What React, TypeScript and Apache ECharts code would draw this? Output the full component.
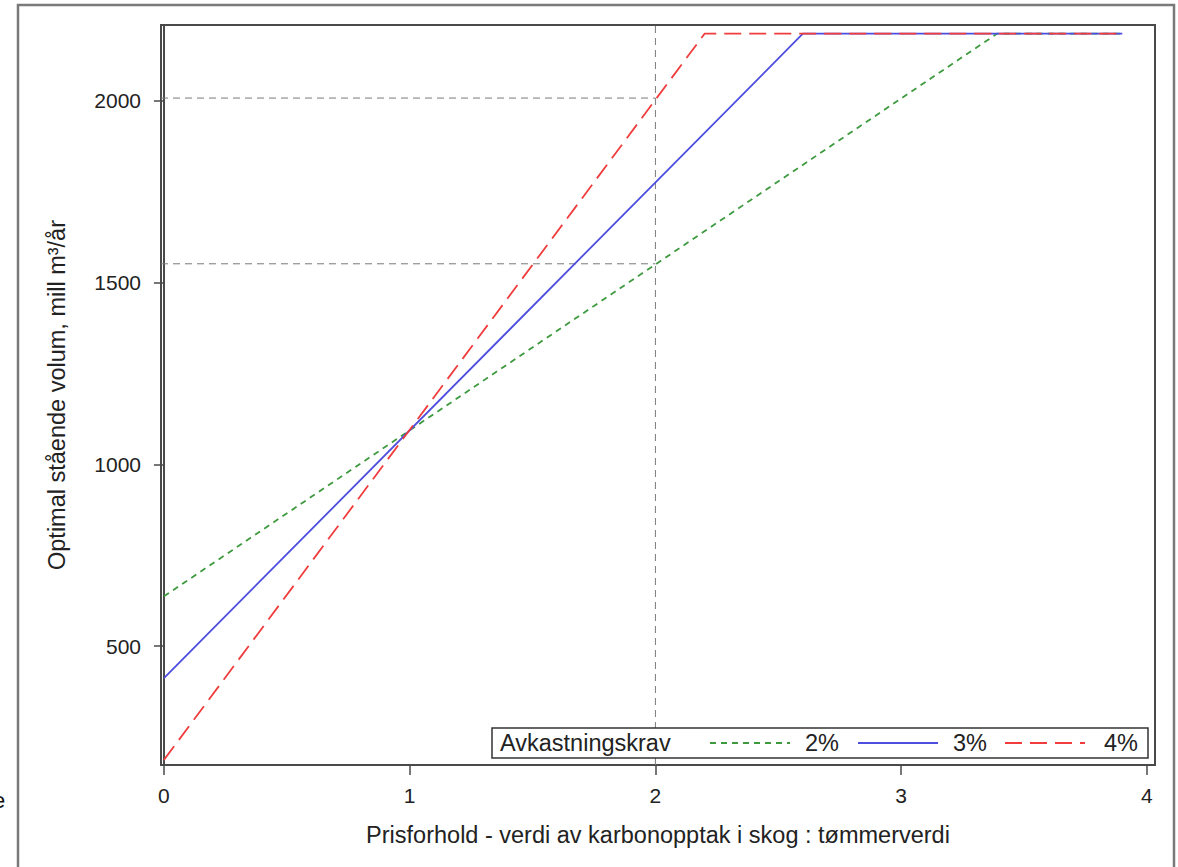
import React, { useEffect, useRef } from "react";
import * as echarts from "echarts";

// Price ratio (carbon uptake value : timber value) vs optimal standing volume
const seriesNames = ["2%", "3%", "4%"];
const rate2: number[][] = [[0, 637], [3.39, 2185], [3.9, 2185]];
const rate3: number[][] = [[0, 412], [2.6, 2185], [3.9, 2185]];
const rate4: number[][] = [[0, 187], [2.2, 2185], [3.9, 2185]];

// Reference guides at price ratio 2
const guideX = 2;
const guideLevels = [2008, 1552];

const xTicks = [0, 1, 2, 3, 4];
const yTicks = [500, 1000, 1500, 2000];
const xRange = [-0.012, 4.033];
const yRange = [173, 2209];

const FONT = "'Liberation Sans', Arial, sans-serif";
const colors = ["#3f9a3f", "#4d4de0", "#f03c3c"];
const dashes: any[] = [[6, 5], "solid", [17, 8]];

export default function App() {
  const ref = useRef<HTMLDivElement>(null);

  useEffect(() => {
    if (!ref.current) return;
    const chart = echarts.init(ref.current, null, { renderer: "svg" });

    const guideStyle = { color: "#7a7a7a", width: 1, type: [7, 5] as number[] };
    const guideSeries: any[] = [
      ...guideLevels.map((lv) => ({
        type: "line",
        data: [[xRange[0], lv], [guideX, lv]],
        symbol: "none",
        silent: true,
        lineStyle: guideStyle,
        z: 1,
      })),
      {
        type: "line",
        data: [[guideX, yRange[0]], [guideX, yRange[1]]],
        symbol: "none",
        silent: true,
        lineStyle: guideStyle,
        z: 1,
      },
    ];

    const mainData = [rate2, rate3, rate4];
    const mainSeries = mainData.map((d, i) => ({
      name: seriesNames[i],
      type: "line",
      data: d,
      symbol: "none",
      color: colors[i],
      lineStyle: { color: colors[i], width: 1.8, type: dashes[i] },
      z: 3,
    }));

    // Legend: keys and labels inside a framed box
    const legendY = 743;
    const keyX = [710, 858, 1005];
    const labelX = [805, 953, 1104];
    const legendItems: any[] = [];
    seriesNames.forEach((n, i) => {
      legendItems.push({
        type: "line",
        shape: { x1: keyX[i], y1: legendY, x2: keyX[i] + 80, y2: legendY },
        style: {
          stroke: colors[i],
          lineWidth: 1.8,
          lineDash: dashes[i] === "solid" ? null : dashes[i],
        },
        silent: true,
        z: 11,
      });
      legendItems.push({
        type: "text",
        x: labelX[i],
        y: legendY,
        style: {
          text: n,
          fontFamily: FONT,
          fontSize: 23.5,
          fill: "#222",
          verticalAlign: "middle",
        },
        silent: true,
        z: 11,
      });
    });

    const noSep = (v: number) => String(v);

    chart.setOption({
      animation: false,
      backgroundColor: "#ffffff",
      grid: {
        left: 161,
        top: 25,
        width: 994,
        height: 740,
        show: true,
        borderColor: "#4a4a4a",
        borderWidth: 2,
        backgroundColor: "#ffffff",
      },
      xAxis: {
        type: "value",
        min: xRange[0],
        max: xRange[1],
        name: "Prisforhold - verdi av karbonopptak i skog : tømmerverdi",
        nameLocation: "middle",
        nameGap: 58,
        nameTextStyle: { fontFamily: FONT, fontSize: 23.5, color: "#222" },
        axisLine: { show: true, lineStyle: { color: "#4a4a4a", width: 2 } },
        axisTick: {
          show: true,
          length: 10,
          customValues: xTicks,
          lineStyle: { color: "#4a4a4a", width: 1.5 },
        },
        axisLabel: {
          customValues: xTicks,
          formatter: noSep,
          margin: 20,
          fontFamily: FONT,
          fontSize: 21,
          color: "#222",
        },
        splitLine: { show: false },
      },
      yAxis: {
        type: "value",
        min: yRange[0],
        max: yRange[1],
        name: "Optimal stående volum, mill m³/år",
        nameLocation: "middle",
        nameGap: 92,
        nameRotate: 90,
        nameTextStyle: { fontFamily: FONT, fontSize: 23.5, color: "#222" },
        axisLine: { show: true, lineStyle: { color: "#4a4a4a", width: 2 } },
        axisTick: {
          show: true,
          length: 10,
          customValues: yTicks,
          lineStyle: { color: "#4a4a4a", width: 1.5 },
        },
        axisLabel: {
          customValues: yTicks,
          formatter: noSep,
          margin: 20,
          fontFamily: FONT,
          fontSize: 21,
          color: "#222",
        },
        splitLine: { show: false },
      },
      graphic: [
        {
          type: "rect",
          shape: { x: 18, y: 5, width: 1156, height: 900 },
          style: { fill: "none", stroke: "#7a7a7a", lineWidth: 2.5 },
          silent: true,
          z: 0,
        },
        {
          type: "rect",
          shape: { x: 492, y: 728, width: 656, height: 30 },
          style: { fill: "#ffffff", stroke: "#333333", lineWidth: 1.5 },
          silent: true,
          z: 10,
        },
        {
          type: "text",
          x: 500,
          y: legendY,
          style: {
            text: "Avkastningskrav",
            fontFamily: FONT,
            fontSize: 23.5,
            fill: "#222",
            verticalAlign: "middle",
          },
          silent: true,
          z: 11,
        },
        ...legendItems,
        {
          type: "text",
          x: -7,
          y: 800,
          style: {
            text: "e",
            fontFamily: FONT,
            fontSize: 22,
            fill: "#111",
            verticalAlign: "middle",
          },
          silent: true,
          z: 11,
        },
      ],
      series: [...guideSeries, ...mainSeries],
    });

    return () => chart.dispose();
  }, []);

  return (
    <div
      ref={ref}
      style={{ position: "absolute", left: 0, top: 0, width: 1178, height: 867 }}
    />
  );
}
